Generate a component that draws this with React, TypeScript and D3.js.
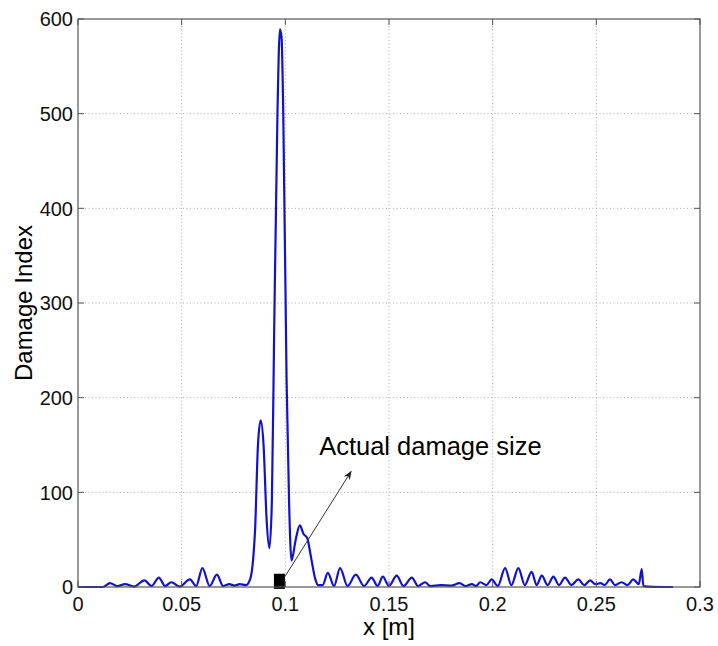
import * as d3 from "d3";

const xs = [
  0, 0.012, 0.0154, 0.019, 0.0227, 0.027, 0.032, 0.0355, 0.039, 0.042, 0.045, 0.049,
  0.054, 0.057, 0.06, 0.0635, 0.067, 0.07, 0.073, 0.0755, 0.078, 0.081, 0.083, 0.0845,
  0.0854, 0.0868, 0.0881, 0.0895, 0.091, 0.0923, 0.0935, 0.0945, 0.0962, 0.0974, 0.0982,
  0.099, 0.1006, 0.1018, 0.103, 0.105, 0.107, 0.1088, 0.1105, 0.1125, 0.1145, 0.1158,
  0.118, 0.1205, 0.1235, 0.1264, 0.13, 0.134, 0.138, 0.1416, 0.1445, 0.147, 0.15, 0.1537,
  0.157, 0.161, 0.164, 0.1674, 0.17, 0.175, 0.18, 0.184, 0.187, 0.19, 0.192, 0.194, 0.197,
  0.1995, 0.2025, 0.206, 0.209, 0.2124, 0.2155, 0.2188, 0.2212, 0.2237, 0.2265, 0.2293,
  0.232, 0.2349, 0.238, 0.2413, 0.2442, 0.247, 0.2495, 0.252, 0.254, 0.2566, 0.259,
  0.2622, 0.265, 0.2678, 0.2705, 0.2719, 0.2727, 0.275, 0.287,
];
const damage = [
  0, 0, 4, 1, 3, 0.5, 7, 1, 10, 1, 5, 0.5,
  8, 1, 20, 1, 13, 1, 3, 1.5, 3, 2, 8, 30,
  60, 150, 176, 150, 70, 41, 90, 250, 500, 589, 580,
  500, 219, 90, 28, 50, 65, 56, 52, 30, 8, 2,
  2, 15, 1, 20, 1, 13, 1, 10, 1, 11, 1, 12,
  1, 10, 1, 5, 1, 2, 1.5, 4, 1, 3, 1, 5, 2,
  8, 1, 20, 2, 20, 2, 16, 2, 12, 2, 11,
  2, 10, 2, 8, 2, 7, 3, 4, 2, 8, 2,
  5, 2, 8, 3, 19, 1, 0.5, 0,
];

const xTicks = [0, 0.05, 0.1, 0.15, 0.2, 0.25, 0.3];
const yTicks = [0, 100, 200, 300, 400, 500, 600];

// actual damage marker and annotation
const damageBox = { x0: 0.0945, x1: 0.0998, y0: -2, y1: 14 };
const arrowFrom = [0.0998, 11];
const arrowTo = [0.1317, 122];
const noteAt = [0.1163, 139];
const noteText = "Actual damage size";

const W = 718;
const H = 646;
const margin = { top: 19, right: 18, bottom: 59, left: 78 };
const font = "'Liberation Sans', Arial, sans-serif";

export default function App() {
  const innerW = W - margin.left - margin.right;
  const innerH = H - margin.top - margin.bottom;

  const x = d3.scaleLinear().domain([0, 0.3]).range([0, innerW]);
  const y = d3.scaleLinear().domain([0, 600]).range([innerH, 0]);

  const pts = xs.map((v, i) => [v, damage[i]] as [number, number]);
  const line = d3
    .line<[number, number]>()
    .x((d) => x(d[0]))
    .y((d) => y(d[1]))
    .curve(d3.curveMonotoneX);

  const fmt = (v: number) => String(v);

  return (
    <svg
      width={W}
      height={H}
      style={{ position: "absolute", left: 0, top: 0, background: "#fff" }}
      fontFamily={font}
    >
      <defs>
        <marker
          id="arr"
          viewBox="0 0 10 10"
          refX="9"
          refY="5"
          markerWidth="9"
          markerHeight="9"
          orient="auto"
          markerUnits="userSpaceOnUse"
        >
          <path d="M0,1 L10,5 L0,9 L3,5 Z" fill="#222" />
        </marker>
      </defs>
      <g transform={`translate(${margin.left},${margin.top})`}>
        {/* grid */}
        {xTicks.slice(1, -1).map((t) => (
          <line
            key={"gx" + t}
            x1={x(t)}
            x2={x(t)}
            y1={0}
            y2={innerH}
            stroke="#aaa"
            strokeDasharray="1,2.5"
          />
        ))}
        {yTicks.slice(1, -1).map((t) => (
          <line
            key={"gy" + t}
            x1={0}
            x2={innerW}
            y1={y(t)}
            y2={y(t)}
            stroke="#aaa"
            strokeDasharray="1,2.5"
          />
        ))}

        {/* curve */}
        <path d={line(pts) ?? ""} fill="none" stroke="#1212cc" strokeWidth={2.2} strokeLinejoin="round" />

        {/* damage marker */}
        <rect
          x={x(damageBox.x0)}
          y={y(damageBox.y1)}
          width={x(damageBox.x1) - x(damageBox.x0)}
          height={y(damageBox.y0) - y(damageBox.y1)}
          fill="#000"
        />
        <line
          x1={x(arrowFrom[0])}
          y1={y(arrowFrom[1])}
          x2={x(arrowTo[0])}
          y2={y(arrowTo[1])}
          stroke="#333"
          strokeWidth={1}
          markerEnd="url(#arr)"
        />
        <text x={x(noteAt[0])} y={y(noteAt[1])} fontSize={25.5} fill="#000">
          {noteText}
        </text>

        {/* box and ticks */}
        <rect x={0} y={0} width={innerW} height={innerH} fill="none" stroke="#555" strokeWidth={1.2} />
        {xTicks.map((t) => (
          <g key={"tx" + t}>
            <line x1={x(t)} x2={x(t)} y1={innerH} y2={innerH - 6} stroke="#555" />
            <line x1={x(t)} x2={x(t)} y1={0} y2={6} stroke="#555" />
            <text x={x(t)} y={innerH + 24} textAnchor="middle" fontSize={20} fill="#111">
              {fmt(t)}
            </text>
          </g>
        ))}
        {yTicks.map((t) => (
          <g key={"ty" + t}>
            <line x1={0} x2={6} y1={y(t)} y2={y(t)} stroke="#555" />
            <line x1={innerW} x2={innerW - 6} y1={y(t)} y2={y(t)} stroke="#555" />
            <text x={-5} y={y(t)} dy="0.36em" textAnchor="end" fontSize={20} fill="#111">
              {fmt(t)}
            </text>
          </g>
        ))}

        <text x={innerW / 2} y={innerH + 48} textAnchor="middle" fontSize={24} fill="#000">
          x [m]
        </text>
        <text
          transform={`translate(${32 - margin.left},${innerH / 2}) rotate(-90)`}
          textAnchor="middle"
          fontSize={24}
          fill="#000"
        >
          Damage Index
        </text>
      </g>
    </svg>
  );
}
